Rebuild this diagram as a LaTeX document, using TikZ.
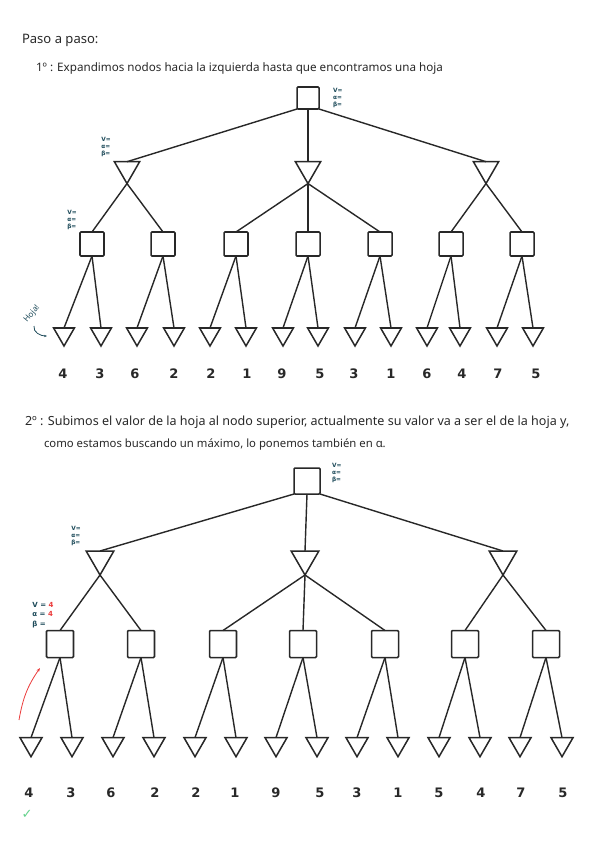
\documentclass[tikz,border=0pt]{standalone}
\usepackage{fontspec}
\setmainfont{Noto Sans}
\newfontfamily\symfont{DejaVu Sans}
\usetikzlibrary{shapes.geometric,arrows.meta}

\definecolor{tinta}{RGB}{40,40,40}
\definecolor{nota}{RGB}{30,75,90}
\definecolor{rojo}{RGB}{235,60,60}
\definecolor{verde}{RGB}{100,210,140}

\begin{document}
\begin{tikzpicture}[
            x=0.035cm,
            y=-0.035cm,
            every node/.style={
                inner sep=0pt,
                outer sep=0pt,
                text=tinta
            },
            maxnode/.style={
                draw=tinta,
                rectangle,
                rounded corners=1pt,
                line width=1.5pt,
                minimum size=#1
            },
            minnode/.style={
                draw=tinta,
                regular polygon,
                regular polygon sides=3,
                shape border rotate=180,
                line width=1.5pt,
                minimum size=#1
            },
            rama/.style={draw=tinta, line width=1.4pt},
            valor/.style={text height=10pt, text depth=0pt, font=\symfont\bfseries\fontsize{13}{13}\selectfont},
            anot/.style={text=nota, align=left, font=\symfont\bfseries\fontsize{5.8}{7}\selectfont},
            texto/.style={anchor=west}
        ]
            \useasboundingbox (0,0) rectangle (600,848);

            % textos
            \node[texto, font=\fontsize{13}{15}\selectfont] (t0) at (22,40) {Paso a paso:};
            \node[texto, font=\fontsize{11.6}{14}\selectfont] (t1) at (36,68) {1º : Expandimos nodos hacia la izquierda hasta que encontramos una hoja};
            \node[texto, font=\fontsize{12.5}{14}\selectfont] (t2) at (25,422) {2º : Subimos el valor de la hoja al nodo superior, actualmente su valor va a ser el de la hoja y,};
            \node[texto, font=\fontsize{11.3}{14}\selectfont] (t3) at (44,445) {como estamos buscando un máximo, lo ponemos también en α.};

            % primer arbol
            \node[maxnode=0.77cm] (r1) at (308,98) {};
            \node[anot, anchor=west] (vr1) at (333,98) {V=\\α=\\β=};

            \node[minnode=1.02cm] (a1) at (127,169) {};
            \node[minnode=1.02cm] (b1) at (308,169) {};
            \node[minnode=1.02cm] (c1) at (486,169) {};
            \node[anot] (va1) at (106,147) {V=\\α=\\β=};

            \node[maxnode=0.84cm] (s11) at (92,244) {};
            \node[maxnode=0.84cm] (s12) at (163,244) {};
            \node[maxnode=0.84cm] (s13) at (236,244) {};
            \node[maxnode=0.84cm] (s14) at (308,244) {};
            \node[maxnode=0.84cm] (s15) at (380,244) {};
            \node[maxnode=0.84cm] (s16) at (451,244) {};
            \node[maxnode=0.84cm] (s17) at (522,244) {};
            \node[anot] (vs11) at (72,220) {V=\\α=\\β=};

            \node[minnode=0.84cm] (h101) at (64,334) {};
            \node[minnode=0.84cm] (h102) at (101,334) {};
            \node[minnode=0.84cm] (h103) at (137,334) {};
            \node[minnode=0.84cm] (h104) at (174,334) {};
            \node[minnode=0.84cm] (h105) at (210,334) {};
            \node[minnode=0.84cm] (h106) at (246,334) {};
            \node[minnode=0.84cm] (h107) at (283,334) {};
            \node[minnode=0.84cm] (h108) at (318,334) {};
            \node[minnode=0.84cm] (h109) at (355,334) {};
            \node[minnode=0.84cm] (h110) at (391,334) {};
            \node[minnode=0.84cm] (h111) at (427,334) {};
            \node[minnode=0.84cm] (h112) at (460,334) {};
            \node[minnode=0.84cm] (h113) at (497,334) {};
            \node[minnode=0.84cm] (h114) at (533,334) {};

            \node[valor] (n101) at (63,373) {4};
            \node[valor] (n102) at (100,373) {3};
            \node[valor] (n103) at (135,373) {6};
            \node[valor] (n104) at (174,373) {2};
            \node[valor] (n105) at (211,373) {2};
            \node[valor] (n106) at (247,373) {1};
            \node[valor] (n107) at (282,373) {9};
            \node[valor] (n108) at (320,373) {5};
            \node[valor] (n109) at (354,373) {3};
            \node[valor] (n110) at (391,373) {1};
            \node[valor] (n111) at (427,373) {6};
            \node[valor] (n112) at (462,373) {4};
            \node[valor] (n113) at (498,373) {7};
            \node[valor] (n114) at (536,373) {5};

            \draw[rama] (r1.south west)--(a1.north);
            \draw[rama] (r1.south)--(b1.north);
            \draw[rama] (r1.south east)--(c1.north);
            \draw[rama] (a1.south)--(s11.north);
            \draw[rama] (a1.south)--(s12.north);
            \draw[rama] (b1.south)--(s13.north);
            \draw[rama] (b1.south)--(s14.north);
            \draw[rama] (b1.south)--(s15.north);
            \draw[rama] (c1.south)--(s16.north);
            \draw[rama] (c1.south)--(s17.north);
            \draw[rama] (s11.south)--(h101.north);
            \draw[rama] (s11.south)--(h102.north);
            \draw[rama] (s12.south)--(h103.north);
            \draw[rama] (s12.south)--(h104.north);
            \draw[rama] (s13.south)--(h105.north);
            \draw[rama] (s13.south)--(h106.north);
            \draw[rama] (s14.south)--(h107.north);
            \draw[rama] (s14.south)--(h108.north);
            \draw[rama] (s15.south)--(h109.north);
            \draw[rama] (s15.south)--(h110.north);
            \draw[rama] (s16.south)--(h111.north);
            \draw[rama] (s16.south)--(h112.north);
            \draw[rama] (s17.south)--(h113.north);
            \draw[rama] (s17.south)--(h114.north);

            % nota hoja
            \node[text=nota, rotate=50, font=\fontsize{8}{8}\selectfont] (hoja) at (32,314) {Hoja!};
            \coordinate (ha) at (34,326);
            \coordinate (hb) at (47,336);
            \draw[nota, line width=0.8pt, -{Stealth[length=3pt]}] (ha) to[out=-100, in=180] (hb);

            % segundo arbol
            \node[maxnode=0.91cm] (r2) at (307,481) {};
            \node[anot, anchor=west] (vr2) at (332,473) {V=\\α=\\β=};

            \node[minnode=1.12cm] (a2) at (100,559) {};
            \node[minnode=1.12cm] (b2) at (305,559) {};
            \node[minnode=1.12cm] (c2) at (503,559) {};
            \node[anot] (va2) at (76,536) {V=\\α=\\β=};

            \node[maxnode=0.945cm] (s21) at (60,644) {};
            \node[maxnode=0.945cm] (s22) at (141,644) {};
            \node[maxnode=0.945cm] (s23) at (223,644) {};
            \node[maxnode=0.945cm] (s24) at (303,644) {};
            \node[maxnode=0.945cm] (s25) at (385,644) {};
            \node[maxnode=0.945cm] (s26) at (465,644) {};
            \node[maxnode=0.945cm] (s27) at (546,644) {};
            \node[anot, font=\symfont\bfseries\fontsize{7}{9.5}\selectfont] (vs21) at (43,615) {V = {\color{rojo}4}\\α = {\color{rojo}4}\\β =};

            \node[minnode=0.89cm] (h201) at (31,744) {};
            \node[minnode=0.89cm] (h202) at (72,744) {};
            \node[minnode=0.89cm] (h203) at (113,744) {};
            \node[minnode=0.89cm] (h204) at (154,744) {};
            \node[minnode=0.89cm] (h205) at (195,744) {};
            \node[minnode=0.89cm] (h206) at (236,744) {};
            \node[minnode=0.89cm] (h207) at (276,744) {};
            \node[minnode=0.89cm] (h208) at (317,744) {};
            \node[minnode=0.89cm] (h209) at (357,744) {};
            \node[minnode=0.89cm] (h210) at (398,744) {};
            \node[minnode=0.89cm] (h211) at (439,744) {};
            \node[minnode=0.89cm] (h212) at (480,744) {};
            \node[minnode=0.89cm] (h213) at (520,744) {};
            \node[minnode=0.89cm] (h214) at (562,744) {};

            \node[valor] (n201) at (29,792) {4};
            \node[valor] (n202) at (71,792) {3};
            \node[valor] (n203) at (111,792) {6};
            \node[valor] (n204) at (155,792) {2};
            \node[valor] (n205) at (196,792) {2};
            \node[valor] (n206) at (235,792) {1};
            \node[valor] (n207) at (276,792) {9};
            \node[valor] (n208) at (320,792) {5};
            \node[valor] (n209) at (357,792) {3};
            \node[valor] (n210) at (398,792) {1};
            \node[valor] (n211) at (439,792) {5};
            \node[valor] (n212) at (481,792) {4};
            \node[valor] (n213) at (521,792) {7};
            \node[valor] (n214) at (563,792) {5};

            \draw[rama] (r2.south west)--(a2.north);
            \draw[rama] (r2.south)--(b2.north);
            \draw[rama] (r2.south east)--(c2.north);
            \draw[rama] (a2.south)--(s21.north);
            \draw[rama] (a2.south)--(s22.north);
            \draw[rama] (b2.south)--(s23.north);
            \draw[rama] (b2.south)--(s24.north);
            \draw[rama] (b2.south)--(s25.north);
            \draw[rama] (c2.south)--(s26.north);
            \draw[rama] (c2.south)--(s27.north);
            \draw[rama] (s21.south)--(h201.north);
            \draw[rama] (s21.south)--(h202.north);
            \draw[rama] (s22.south)--(h203.north);
            \draw[rama] (s22.south)--(h204.north);
            \draw[rama] (s23.south)--(h205.north);
            \draw[rama] (s23.south)--(h206.north);
            \draw[rama] (s24.south)--(h207.north);
            \draw[rama] (s24.south)--(h208.north);
            \draw[rama] (s25.south)--(h209.north);
            \draw[rama] (s25.south)--(h210.north);
            \draw[rama] (s26.south)--(h211.north);
            \draw[rama] (s26.south)--(h212.north);
            \draw[rama] (s27.south)--(h213.north);
            \draw[rama] (s27.south)--(h214.north);

            % flecha roja y check
            \coordinate (fa) at (19,720);
            \coordinate (fb) at (40,668);
            \draw[rojo, line width=0.8pt, -{Stealth[length=4pt]}] (fa) to[out=80, in=235] (fb);
            \node[text=verde, font=\symfont\bfseries\fontsize{13}{13}\selectfont] (ok) at (27,814) {✓};
        \end{tikzpicture}
\end{document}
